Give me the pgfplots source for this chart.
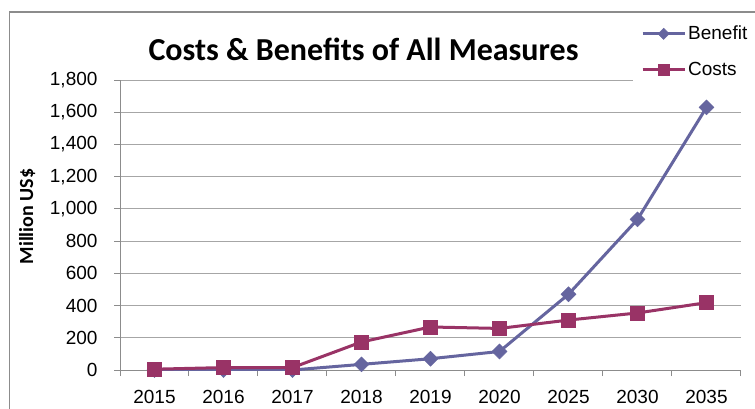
\documentclass[border=0pt]{standalone}
\usepackage{pgfplots}
\pgfplotsset{compat=1.18}
\usepackage{fontspec}
\setmainfont{Liberation Sans}
\newfontfamily\calibri{Carlito}
\definecolor{benefit}{HTML}{65659F}
\definecolor{costs}{HTML}{993366}
\definecolor{gridc}{HTML}{A6A6A6}
\definecolor{axisc}{HTML}{8C8C8C}
\pgfkeys{/pgf/number format/assume math mode=true}
\begin{document}
\begin{tikzpicture}[x=1pt,y=1pt]
\useasboundingbox (0,0) rectangle (755,408);
\fill[white] (0,0) rectangle (755,408);
\draw[axisc, line width=1.2pt] (9.5,-5) -- (9.5,396) -- (760,396);
\node[font=\calibri\bfseries\fontsize{32}{36}\selectfont, anchor=base] at (363.5,348) {Costs \& Benefits of All Measures};
\node[font=\calibri\bfseries\fontsize{20}{24}\selectfont, rotate=90, anchor=base] at (33,191.5) {Million US\$};
\begin{axis}[
  at={(120pt,38pt)}, anchor=south west,
  scale only axis, width=621pt, height=290pt,
  xmin=-0.5, xmax=8.5, ymin=0, ymax=1800,
  xtick={0,...,8},
  xticklabels={2015,2016,2017,2018,2019,2020,2025,2030,2035},
  minor xtick={-0.5,0.5,...,8.5},
  major x tick style={draw=none},
  ytick={0,200,...,1800},
  tick align=outside,
  major tick length=6pt, minor tick length=6pt,
  axis x line*=bottom, axis y line*=left,
  axis line style={axisc, line width=1pt, -},
  tick style={axisc, line width=1pt},
  ymajorgrids, grid style={gridc, line width=1pt},
  tick label style={font=\fontsize{19}{22}\selectfont},
  xticklabel style={anchor=base, inner sep=0pt, yshift=-27.5pt},
  yticklabel style={xshift=-13pt, /pgf/number format/1000 sep={,}, /pgf/number format/assume math mode=true},
  legend image code/.code={\draw[mark repeat=2,mark phase=2] plot coordinates {(0pt,0pt) (21pt,0pt) (42pt,0pt)};},
  legend image post style={every mark/.append style={scale=0.75}},
  legend style={at={(0.826,1.2069)}, anchor=north west, draw=none, fill=white,
    inner xsep=8pt, inner ysep=4pt, font=\fontsize{19}{22}\selectfont, row sep=17pt},
  legend cell align=left,
]
\addplot[benefit, line width=3pt, mark=square*, mark size=5.3pt,
  mark options={rotate=45, fill=benefit, draw=benefit, line width=0.5pt}]
  coordinates {(0,0) (1,0) (2,0) (3,35) (4,70) (5,115) (6,470) (7,935) (8,1630)};
\addlegendentry{Benefit}
\addplot[costs, line width=3pt, mark=square*, mark size=7pt,
  mark options={fill=costs, draw=costs, line width=0.5pt}]
  coordinates {(0,5) (1,15) (2,15) (3,174) (4,267) (5,258) (6,310) (7,354) (8,418)};
\addlegendentry{Costs}
\end{axis}
\end{tikzpicture}
\end{document}
